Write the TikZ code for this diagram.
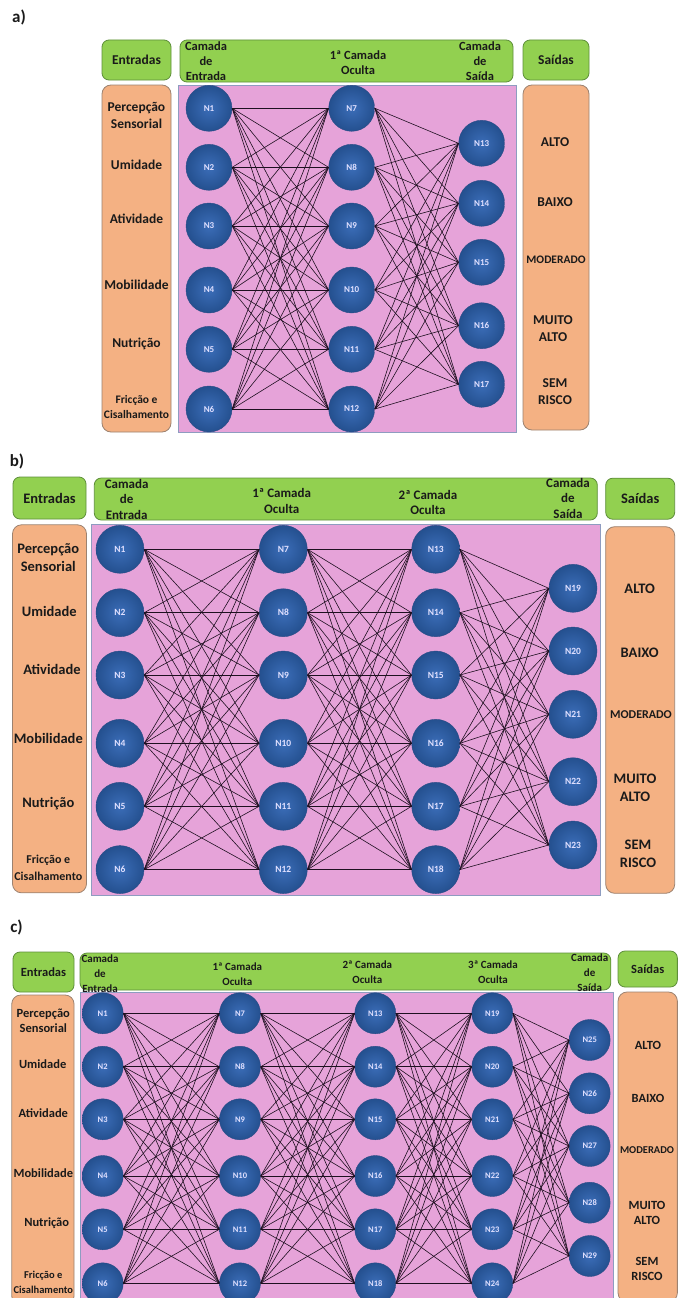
\documentclass[tikz,border=0pt]{standalone}
\usepackage{fontspec}
\setmainfont{Carlito}
\definecolor{gfill}{HTML}{92D050}
\definecolor{gborder}{HTML}{5E8F3A}
\definecolor{ofill}{HTML}{F4B183}
\definecolor{oborder}{HTML}{9C8270}
\definecolor{pfill}{HTML}{E6A3D9}
\definecolor{pborder}{HTML}{8E9CC0}
\definecolor{ninner}{HTML}{3B6DB8}
\definecolor{nouter}{HTML}{24508F}
\definecolor{nborder}{HTML}{2A4C86}
\definecolor{ecol}{HTML}{1E1020}
\definecolor{tcol}{HTML}{1A1A1A}
\newcommand\myfs[2]{\fontsize{#1}{#2}\selectfont}
\tikzset{
  gbox/.style={draw=gborder, fill=gfill, rounded corners=7pt, line width=0.8pt, inner sep=0pt},
  obox/.style={draw=oborder, fill=ofill, rounded corners=9pt, line width=0.8pt, inner sep=0pt},
  pbox/.style={draw=pborder, fill=pfill, line width=0.8pt, inner sep=0pt},
  neuron/.style={circle, draw=nborder, line width=0.4pt, shading=radial, inner color=ninner, outer color=nouter, text=white!88!blue, inner sep=0pt},
  conn/.style={draw=ecol, line width=0.6pt},
  lbl/.style={text=tcol, align=center, inner sep=0pt},
  plbl/.style={text=tcol, inner sep=0pt, font=\bfseries\myfs{17}{20}},
}
\begin{document}
\begin{tikzpicture}[x=1pt,y=-1pt]
\useasboundingbox (0,0) rectangle (688,1298);
\fill[white] (0,0) rectangle (688,1298);

%% ================= PANEL A =================
\node[plbl] (alab) at (19,17) {a)};
\node[gbox, minimum width=69pt, minimum height=40pt] (aent) at (136.5,60) {};
\node[gbox, minimum width=333pt, minimum height=42pt] (atop) at (346.5,61) {};
\node[gbox, minimum width=66pt, minimum height=40pt] (asai) at (556,60) {};
\node[obox, minimum width=69pt, minimum height=347pt] (aleft) at (136.5,258.5) {};
\node[pbox, minimum width=338pt, minimum height=347pt] (apink) at (347,258.5) {};
\node[obox, minimum width=66pt, minimum height=345pt] (aright) at (556,257.5) {};
\begin{scope}[every node/.append style={lbl, font=\bfseries\myfs{13.5}{17}}]
\node (aentt) at (aent) {Entradas};
\node (asait) at (asai) {Saídas};
\node (al1) at (136.5,115.5) {Percepção\\Sensorial};
\node (al2) at (136.5,165) {Umidade};
\node (al3) at (136.5,219.3) {Atividade};
\node (al4) at (136.5,285) {Mobilidade};
\node (al5) at (136.5,344) {Nutrição};
\node[font=\bfseries\myfs{11.5}{15}] (al6) at (136.5,407) {Fricção e\\Cisalhamento};
\node (ar1) at (555,141.7) {ALTO};
\node (ar2) at (555,201.7) {BAIXO};
\node[font=\bfseries\myfs{11.5}{13}] (ar3) at (556,259.3) {MODERADO};
\node (ar4) at (553,329) {MUITO\\ALTO};
\node (ar5) at (555,391.7) {SEM\\RISCO};
\end{scope}
\begin{scope}[every node/.append style={lbl, font=\bfseries\myfs{12.5}{15}}]
\node (at1) at (206,61.5) {Camada\\de\\Entrada};
\node (at2) at (358,63) {1ª Camada\\Oculta};
\node (at3) at (480,61.5) {Camada\\de\\Saída};
\end{scope}
\begin{scope}[every node/.append style={neuron, minimum size=46pt, font=\bfseries\myfs{9}{10}}]
\foreach \y [count=\k] in {108.3,167.3,226,290,349.3,409}{
  \node (a\k) at (209,\y) {N\k};
  \pgfmathtruncatemacro\n{\k+6}
  \node (a\n) at (351.7,\y) {N\n};
}
\foreach \y [count=\k] in {143.3,203.3,262.3,325.7,384.3}{
  \pgfmathtruncatemacro\n{\k+12}
  \node (a\n) at (481.7,\y) {N\n};
}
\end{scope}
\foreach \i in {1,...,6}{\foreach \j in {7,...,12}{\draw[conn] (a\i.east) -- (a\j.west);}}
\foreach \i in {7,...,12}{\foreach \j in {13,...,17}{\draw[conn] (a\i.east) -- (a\j.west);}}

%% ================= PANEL B =================
\node[plbl] (blab) at (17,461.5) {b)};
\node[gbox, minimum width=73pt, minimum height=42pt] (bent) at (49.5,498) {};
\node[gbox, minimum width=503pt, minimum height=42pt] (btop) at (345.8,499) {};
\node[gbox, minimum width=69pt, minimum height=41pt] (bsai) at (640.2,498.7) {};
\node[obox, minimum width=74pt, minimum height=368pt] (bleft) at (49.5,708.8) {};
\node[pbox, minimum width=508.6pt, minimum height=371pt] (bpink) at (346,709.5) {};
\node[obox, minimum width=69pt, minimum height=366.6pt] (bright) at (640.2,710) {};
\begin{scope}[every node/.append style={lbl, font=\bfseries\myfs{14.5}{18.4}}]
\node (bentt) at (bent) {Entradas};
\node (bsait) at (bsai) {Saídas};
\node (bl1) at (48.3,557.5) {Percepção\\Sensorial};
\node (bl2) at (49.3,611.7) {Umidade};
\node (bl3) at (52,669.3) {Atividade};
\node (bl4) at (48.3,738.3) {Mobilidade};
\node (bl5) at (48.3,803.3) {Nutrição};
\node[font=\bfseries\myfs{12}{16.5}] (bl6) at (48.3,868) {Fricção e\\Cisalhamento};
\node (br1) at (639.7,588.3) {ALTO};
\node (br2) at (639.7,652.3) {BAIXO};
\node[font=\bfseries\myfs{12}{13}] (br3) at (641,714.3) {MODERADO};
\node (br4) at (635,787.5) {MUITO\\ALTO};
\node (br5) at (638,854) {SEM\\RISCO};
\end{scope}
\begin{scope}[every node/.append style={lbl, font=\bfseries\myfs{13}{15.5}}]
\node (bt1) at (126.7,499) {Camada\\de\\Entrada};
\node (bt2) at (281.7,501) {1ª Camada\\Oculta};
\node (bt3) at (428,502.5) {2ª Camada\\Oculta};
\node (bt4) at (568,498) {Camada\\de\\Saída};
\end{scope}
\begin{scope}[every node/.append style={neuron, minimum size=48pt, font=\bfseries\myfs{9.5}{10}}]
\foreach \y [count=\k] in {549.3,612.7,675,743.3,806.3,869.6}{
  \node (b\k) at (120,\y) {N\k};
  \pgfmathtruncatemacro\n{\k+6}
  \node (b\n) at (283.3,\y) {N\n};
  \pgfmathtruncatemacro\m{\k+12}
  \node (b\m) at (435.7,\y) {N\m};
}
\foreach \y [count=\k] in {588.3,651,714.3,781.7,845}{
  \pgfmathtruncatemacro\n{\k+18}
  \node (b\n) at (573,\y) {N\n};
}
\end{scope}
\foreach \i in {1,...,6}{\foreach \j in {7,...,12}{\draw[conn] (b\i.east) -- (b\j.west);}}
\foreach \i in {7,...,12}{\foreach \j in {13,...,18}{\draw[conn] (b\i.east) -- (b\j.west);}}
\foreach \i in {13,...,18}{\foreach \j in {19,...,23}{\draw[conn] (b\i.east) -- (b\j.west);}}

%% ================= PANEL C =================
\node[plbl] (clab) at (16.5,927.5) {c)};
\node[gbox, minimum width=61pt, minimum height=40pt] (cent) at (43.5,972) {};
\node[gbox, minimum width=530.7pt, minimum height=37pt] (ctop) at (345.4,971.5) {};
\node[gbox, minimum width=59.3pt, minimum height=36pt] (csai) at (647.7,969) {};
\node[obox, minimum width=62.3pt, minimum height=310pt] (cleft) at (42.9,1150) {};
\node[pbox, minimum width=533pt, minimum height=308pt] (cpink) at (346.5,1146) {};
\node[obox, minimum width=59.3pt, minimum height=310pt] (cright) at (647.7,1147) {};
\begin{scope}[every node/.append style={lbl, font=\bfseries\myfs{12.5}{15}}]
\node (centt) at (cent) {Entradas};
\node (csait) at (csai) {Saídas};
\node (cl1) at (43.3,1021) {Percepção\\Sensorial};
\node (cl2) at (42.7,1064.3) {Umidade};
\node (cl3) at (43.3,1113.3) {Atividade};
\node (cl4) at (43.3,1172.7) {Mobilidade};
\node (cl5) at (46.7,1222.7) {Nutrição};
\node[font=\bfseries\myfs{10.5}{15}] (cl6) at (43.3,1282.5) {Fricção e\\Cisalhamento};
\node (cr1) at (648,1045) {ALTO};
\node (cr2) at (648,1098.3) {BAIXO};
\node[font=\bfseries\myfs{10.5}{12}] (cr3) at (647,1150) {MODERADO};
\node (cr4) at (647,1213) {MUITO\\ALTO};
\node (cr5) at (647,1269) {SEM\\RISCO};
\end{scope}
\begin{scope}[every node/.append style={lbl, font=\bfseries\myfs{11}{15}}]
\node (ct1) at (100,973.3) {Camada\\de\\Entrada};
\node (ct2) at (237.3,974) {1ª Camada\\Oculta};
\node (ct3) at (367.3,972.5) {2ª Camada\\Oculta};
\node (ct4) at (493,972.5) {3ª Camada\\Oculta};
\node (ct5) at (589.7,973) {Camada\\de\\Saída};
\end{scope}
\begin{scope}[every node/.append style={neuron, minimum size=41pt, font=\bfseries\myfs{8.5}{10}}]
\foreach \y [count=\k] in {1013.3,1066.7,1119.3,1176,1229.3,1283.3}{
  \node (c\k) at (102.7,\y) {N\k};
  \pgfmathtruncatemacro\n{\k+6}
  \node (c\n) at (240,\y) {N\n};
  \pgfmathtruncatemacro\m{\k+12}
  \node (c\m) at (375.3,\y) {N\m};
  \pgfmathtruncatemacro\p{\k+18}
  \node (c\p) at (492.3,\y) {N\p};
}
\foreach \y [count=\k] in {1040,1093.3,1146,1202.7,1256}{
  \pgfmathtruncatemacro\n{\k+24}
  \node (c\n) at (589.7,\y) {N\n};
}
\end{scope}
\foreach \i in {1,...,6}{\foreach \j in {7,...,12}{\draw[conn] (c\i.east) -- (c\j.west);}}
\foreach \i in {7,...,12}{\foreach \j in {13,...,18}{\draw[conn] (c\i.east) -- (c\j.west);}}
\foreach \i in {13,...,18}{\foreach \j in {19,...,24}{\draw[conn] (c\i.east) -- (c\j.west);}}
\foreach \i in {19,...,24}{\foreach \j in {25,...,29}{\draw[conn] (c\i.east) -- (c\j.west);}}
\end{tikzpicture}
\end{document}
